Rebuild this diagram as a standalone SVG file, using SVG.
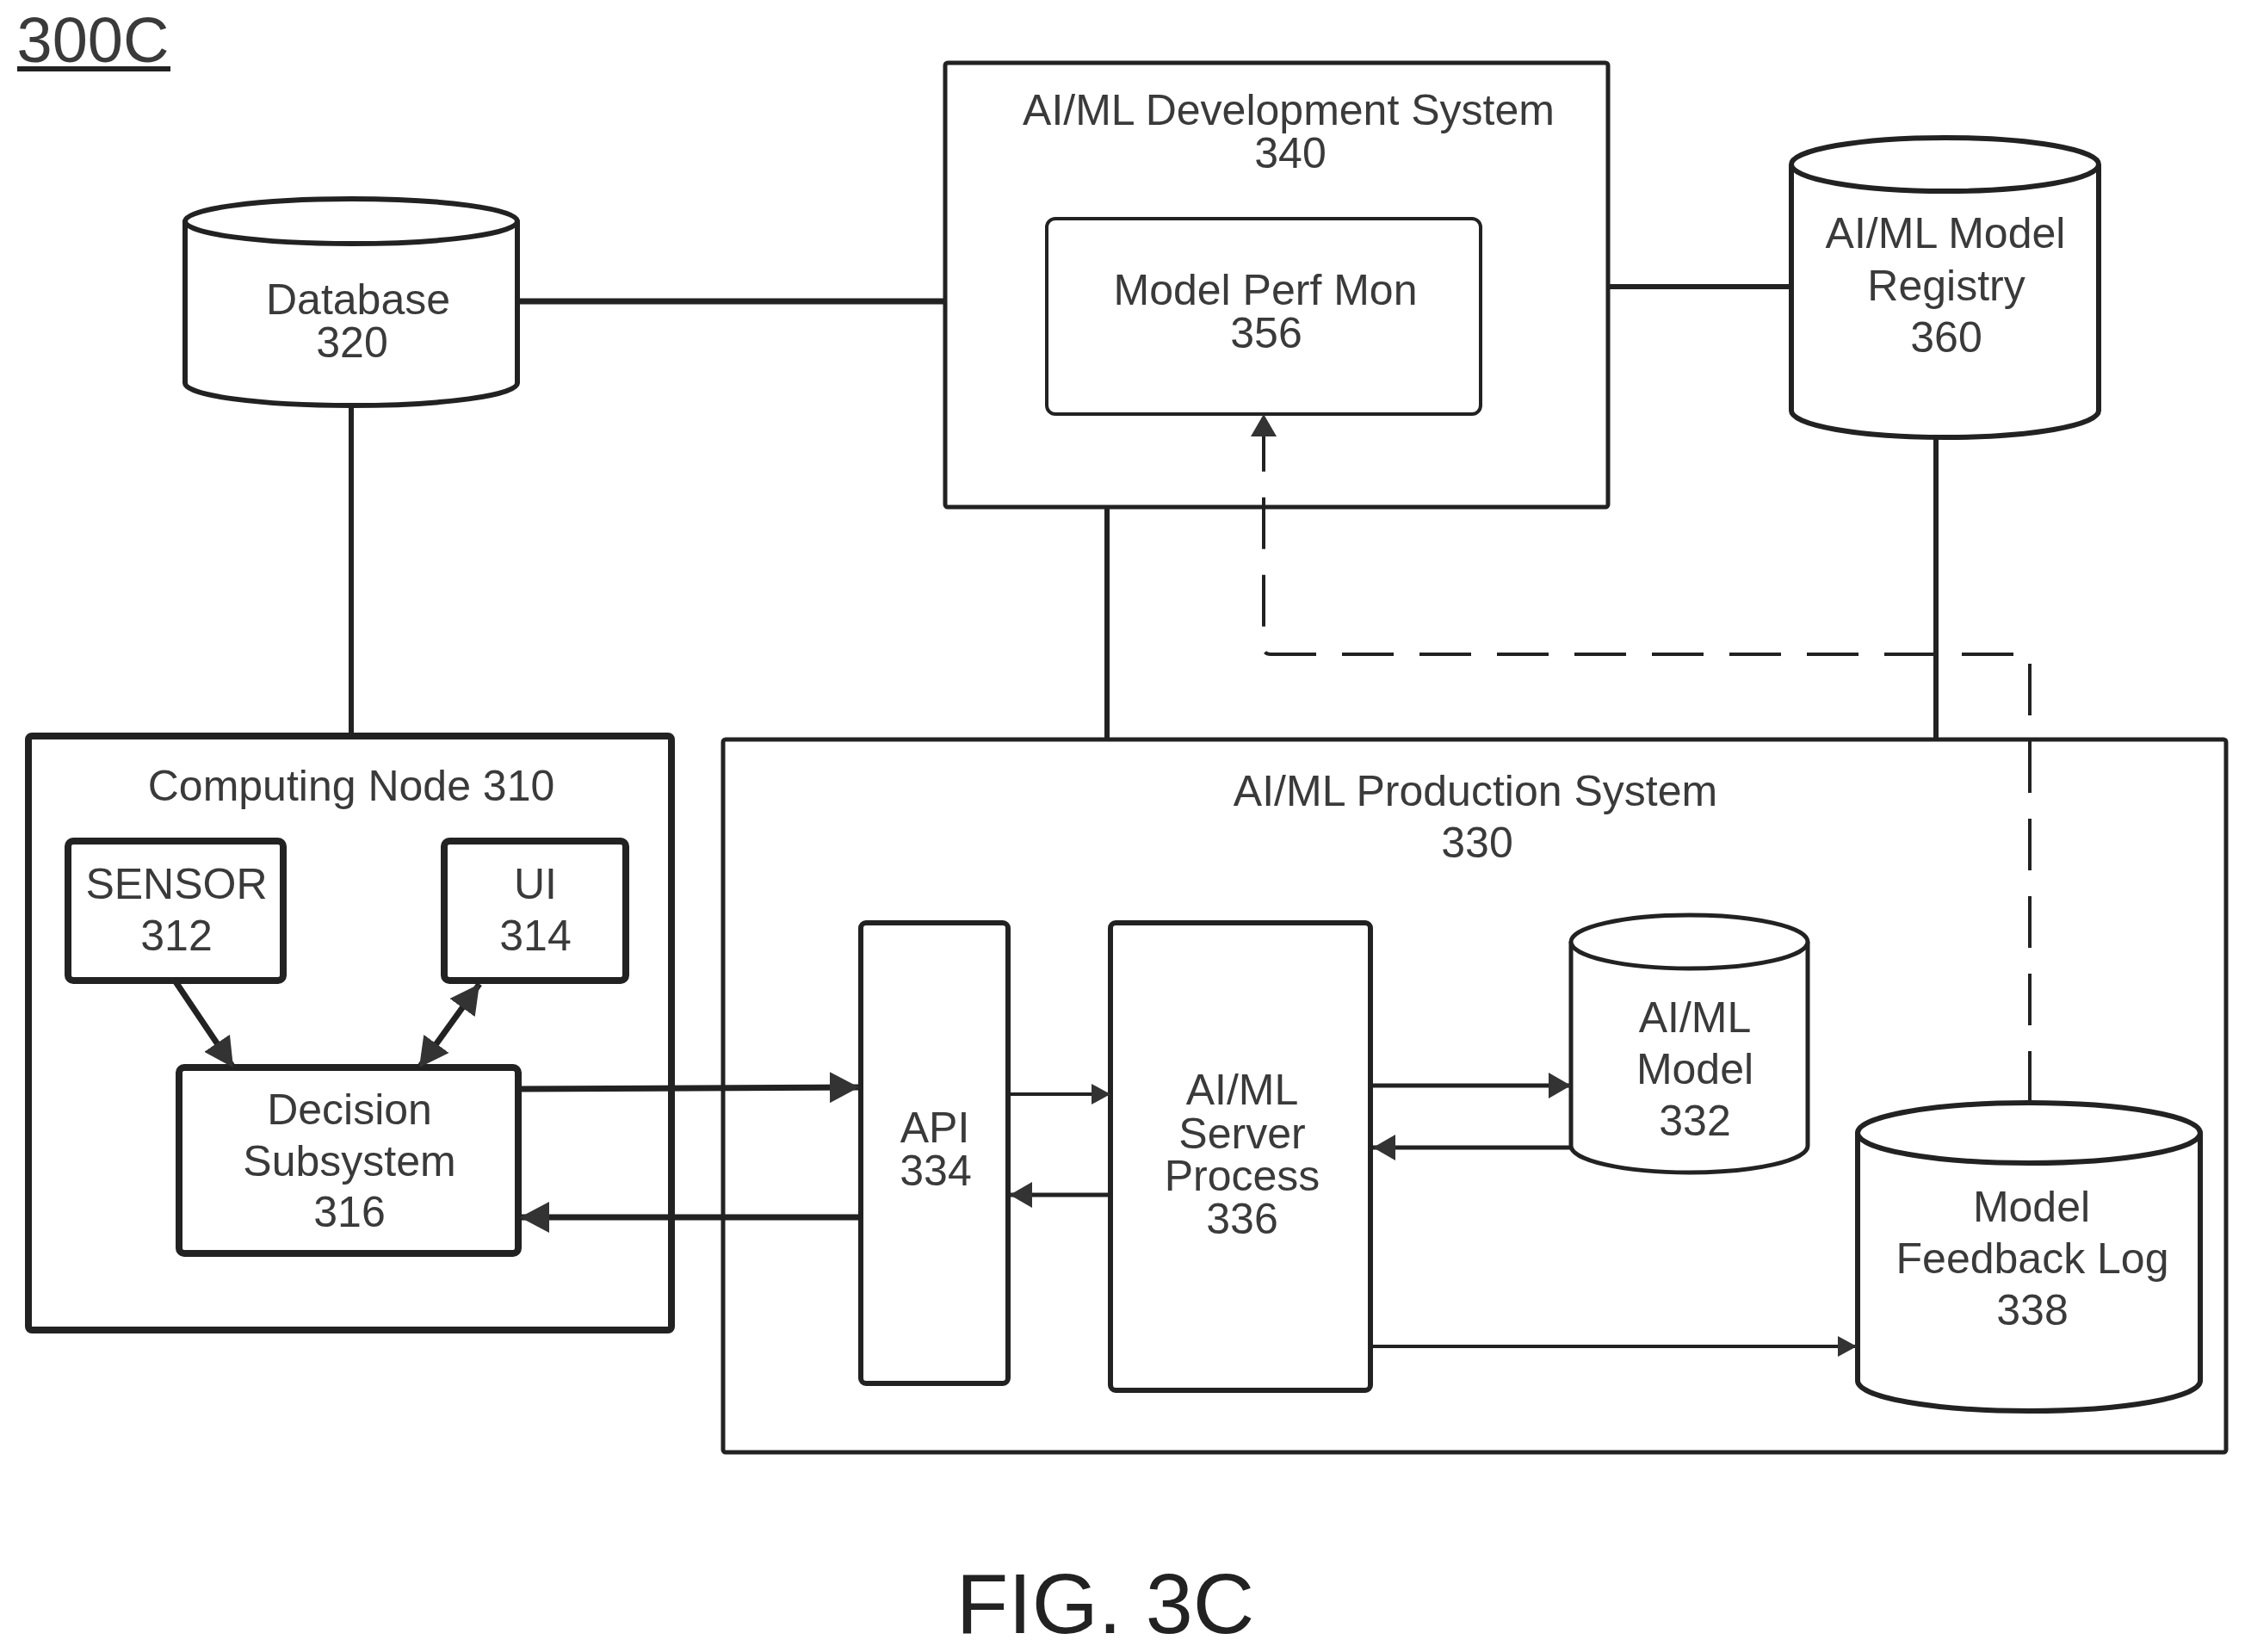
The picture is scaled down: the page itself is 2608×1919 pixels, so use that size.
<svg xmlns="http://www.w3.org/2000/svg" width="2608" height="1919" viewBox="0 0 2608 1919">
<defs>
<style>
text{font-family:"Liberation Sans",Arial,sans-serif;font-size:50px;fill:#3a3a3a;text-anchor:middle}
.b{fill:#fff;stroke:#222;stroke-linejoin:round}
.w8{stroke-width:8}.w6{stroke-width:6}.w5{stroke-width:5}.w4{stroke-width:4}
.c{fill:none;stroke:#222;stroke-linecap:butt}
</style>
<marker id="big" markerUnits="userSpaceOnUse" markerWidth="36" markerHeight="36" refX="34" refY="18" orient="auto-start-reverse"><path d="M0 0L34 18L0 36Z" fill="#333"/></marker>
<marker id="mid" markerUnits="userSpaceOnUse" markerWidth="28" markerHeight="30" refX="26" refY="15" orient="auto-start-reverse"><path d="M0 0L26 15L0 30Z" fill="#333"/></marker>
<marker id="sm" markerUnits="userSpaceOnUse" markerWidth="24" markerHeight="24" refX="22" refY="12" orient="auto-start-reverse"><path d="M0 0L22 12L0 24Z" fill="#333"/></marker>
</defs>
<rect width="2608" height="1919" fill="#fff"/>
<g id="connectors">
<path class="c" stroke-width="7" d="M601 350H1098"/>
<path class="c" stroke-width="6" d="M408 471V854"/>
<path class="c" stroke-width="6" d="M1868 333H2081"/>
<path class="c" stroke-width="6" d="M1286 589V858"/>
<path class="c" stroke-width="6" d="M2249 508V858"/>
</g>
<g id="label-300C"><text x="108" y="72" style="font-size:74px">300C</text><path class="c" stroke-width="6" d="M20 80H198"/></g>
<g id="n340"><rect class="b w5" x="1098" y="73" width="770" height="516" rx="3"/><text x="1497" y="145">AI/ML Development System</text><text x="1499" y="195">340</text></g>
<g id="n356"><rect class="b w4" x="1216" y="254" width="504" height="227" rx="10"/><text x="1470" y="354">Model Perf Mon</text><text x="1471" y="404">356</text></g>
<g id="n360"><path class="b w6" d="M2081 191A178.500 31 0 0 1 2438 191V477A178.500 31 0 0 1 2081 477Z"/><path class="b w6" d="M2081 191A178.500 31 0 0 0 2438 191"/><text x="2260" y="288">AI/ML Model</text><text x="2261" y="349">Registry</text><text x="2261" y="409">360</text></g>
<g id="n320"><path class="b w6" d="M215 257A193 26 0 0 1 601 257V445A193 26 0 0 1 215 445Z"/><path class="b w6" d="M215 257A193 26 0 0 0 601 257"/><text x="416" y="365">Database</text><text x="409" y="415">320</text></g>
<g id="n310"><rect class="b w8" x="33" y="855" width="747" height="690" rx="4"/><text x="408" y="930">Computing Node 310</text></g>
<g id="n312"><rect class="b w8" x="79" y="977" width="250" height="162" rx="6"/><text x="205" y="1044">SENSOR</text><text x="205" y="1104">312</text></g>
<g id="n314"><rect class="b w8" x="516" y="977" width="211" height="162" rx="6"/><text x="622" y="1044">UI</text><text x="622" y="1104">314</text></g>
<g id="n316"><rect class="b w8" x="208" y="1240" width="394" height="216" rx="6"/><text x="406" y="1306">Decision</text><text x="406" y="1366">Subsystem</text><text x="406" y="1425">316</text></g>
<g id="n330"><rect class="b w5" x="840" y="859" width="1746" height="828" rx="3"/><text x="1714" y="936">AI/ML Production System</text><text x="1716" y="996">330</text></g>
<g id="n334"><rect class="b w6" x="1000" y="1072" width="171" height="535" rx="6"/><text x="1086" y="1327">API</text><text x="1087" y="1377">334</text></g>
<g id="n336"><rect class="b w6" x="1290" y="1072" width="302" height="543" rx="6"/><text x="1443" y="1283">AI/ML</text><text x="1443" y="1334">Server</text><text x="1443" y="1383">Process</text><text x="1443" y="1433">336</text></g>
<g id="n332"><path class="b w5" d="M1825 1094A137.500 31 0 0 1 2100 1094V1331A137.500 31 0 0 1 1825 1331Z"/><path class="b w5" d="M1825 1094A137.500 31 0 0 0 2100 1094"/><text x="1969" y="1199">AI/ML</text><text x="1969" y="1259">Model</text><text x="1969" y="1319">332</text></g>
<g id="n338"><path class="b w6" d="M2158 1316A199 35 0 0 1 2556 1316V1604A199 35 0 0 1 2158 1604Z"/><path class="b w6" d="M2158 1316A199 35 0 0 0 2556 1316"/><text x="2360" y="1419">Model</text><text x="2361" y="1479">Feedback Log</text><text x="2361" y="1539">338</text></g>
<g id="connectors-arrows">
<path class="c" stroke-width="7" marker-end="url(#big)" d="M203 1139L271 1240"/>
<path class="c" stroke-width="7" marker-start="url(#big)" marker-end="url(#big)" d="M557 1143L487 1240"/>
<path class="c" stroke-width="7" marker-end="url(#big)" d="M602 1265L998 1263"/>
<path class="c" stroke-width="7" marker-end="url(#big)" d="M998 1414H604"/>
<path class="c" stroke-width="4" marker-end="url(#sm)" d="M1171 1271H1290"/>
<path class="c" stroke-width="5" marker-end="url(#mid)" d="M1290 1388H1173"/>
<path class="c" stroke-width="5" marker-end="url(#mid)" d="M1592 1261H1825"/>
<path class="c" stroke-width="5" marker-end="url(#mid)" d="M1825 1333H1595"/>
<path class="c" stroke-width="4" marker-end="url(#sm)" d="M1592 1564H2157"/>
<path class="c" stroke-width="4" stroke-dasharray="60 30" stroke-linejoin="round" marker-end="url(#mid)" d="M2358 1281V760H1476Q1468 760 1468 752V481"/>
</g>
<g id="caption"><text x="1284" y="1897" style="font-size:99px;fill:#222">FIG. 3C</text></g>
</svg>
